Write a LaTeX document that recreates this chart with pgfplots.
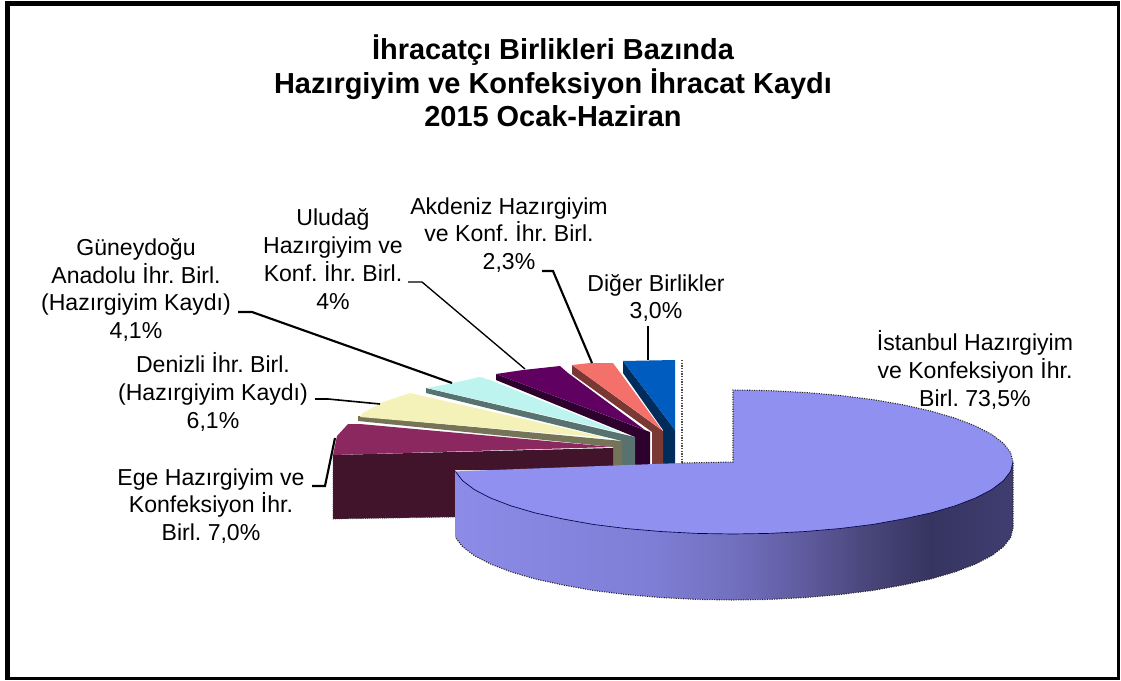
\documentclass[border=0pt]{standalone}
\usepackage{fontspec}
\setmainfont{Liberation Sans}
\usepackage{pgfplots}
\pgfplotsset{compat=1.18}
\definecolor{sA}{RGB}{140,140,232}
\definecolor{sB}{RGB}{126,126,214}
\definecolor{sC}{RGB}{112,110,188}
\definecolor{sD}{RGB}{96,92,160}
\definecolor{sE}{RGB}{76,72,126}
\definecolor{sF}{RGB}{54,52,96}
\definecolor{sG}{RGB}{64,62,112}
\pgfdeclarehorizontalshading{pieside}{100bp}{color(0bp)=(sA); color(25bp)=(sA); color(42.6bp)=(sB); color(50.6bp)=(sC); color(56bp)=(sD); color(61.3bp)=(sE); color(67.6bp)=(sF); color(75bp)=(sG); color(100bp)=(sG)}
\definecolor{ist}{RGB}{144,144,240}
\definecolor{egeT}{RGB}{140,40,96}
\definecolor{egeS}{RGB}{66,20,44}
\definecolor{denT}{RGB}{244,242,184}
\definecolor{denS}{RGB}{118,116,88}
\definecolor{gunT}{RGB}{190,244,240}
\definecolor{gunS}{RGB}{88,114,112}
\definecolor{uluT}{RGB}{96,0,96}
\definecolor{uluS}{RGB}{46,0,46}
\definecolor{akdT}{RGB}{244,112,106}
\definecolor{akdS}{RGB}{122,56,52}
\definecolor{digT}{RGB}{0,92,190}
\definecolor{digS}{RGB}{0,44,92}
\frenchspacing
\tikzset{lbl/.style={font=\fontsize{17.3}{20.8}\selectfont,align=center,text=black,inner sep=0pt}}
\begin{document}
\begin{tikzpicture}
\begin{axis}[
  scale only axis, width=840.75pt, height=510.75pt,
  xmin=0, xmax=1121, ymin=0, ymax=681, y dir=reverse,
  hide axis, clip=true]
% page and frame
\addplot[fill=white,draw=none] coordinates {(0,0)(1121,0)(1121,681)(0,681)} --cycle;
\addplot[fill=black,draw=none] coordinates {(5,1)(1120,1)(1120,6)(5,6)} --cycle;
\addplot[fill=black,draw=none] coordinates {(5,1)(10,1)(10,680)(5,680)} --cycle;
\addplot[fill=black,draw=none] coordinates {(1117,1)(1120,1)(1120,680)(1117,680)} --cycle;
\addplot[fill=black,draw=none] coordinates {(5,677)(1120,677)(1120,680)(5,680)} --cycle;
% dotted side marks
\addplot[black!70,line width=1pt,densely dotted] coordinates {(682,360)(682,463)};
% Diger
\addplot[fill=digS,draw=none] coordinates {(623,361)(623,373)(663,430)(663,465)(675,465)(675,430)} --cycle;
\addplot[fill=digT,draw=none] coordinates {(623,361)(675,360)(675,430)} --cycle;
% Akdeniz
\addplot[fill=akdS,draw=none] coordinates {(572,365)(572,374)(652,432)(652,465)(663,465)(663,431)} --cycle;
\addplot[fill=akdT,draw=none] coordinates {(572,365)(590,363)(613,363)(662,430)} --cycle;
% Uludag
\addplot[fill=uluS,draw=none] coordinates {(496,374)(496,380)(635,437)(635,465)(650,465)(650,432)} --cycle;
\addplot[fill=uluT,draw=none] coordinates {(496,374)(523,370)(560,366)(568,373)(645,430)} --cycle;
% Guneydogu
\addplot[fill=gunS,draw=none] coordinates {(426,388)(426,393)(622,441)(622,465)(635,465)(635,437)} --cycle;
\addplot[fill=gunT,draw=none] coordinates {(427,388)(453,383)(480,377)(490,380)(622,433)} --cycle;
% Denizli
\addplot[fill=denS,draw=none] coordinates {(358,416)(358,421)(613,447)(613,466)(622,466)(622,441)} --cycle;
\addplot[fill=denT,draw=none] coordinates {(360,417)(363,413)(383,402)(410,393)(423,396)(607,438)} --cycle;
% Ege
\addplot[fill=egeS,draw=none] coordinates {(333,455)(613,448)(613,470)(455,470)(455,517)(333,519)} --cycle;
\addplot[fill=egeT,draw=none] coordinates {(333,455)(337,436)(348,424)(360,424)(613,447)} --cycle;
\addplot[black!75,line width=0.6pt,densely dotted] coordinates {(333,455)(333,519)(455,517)};
% Istanbul side
\addplot[shading=pieside,shading angle=0,draw=none] coordinates {
 (1013,462)(1010.6,471.4)(1003.5,480.6)(991.7,489.6)(975.5,498)(955.2,505.8)(931,512.9)(903.5,518.9)(873,524.4)(840.2,528.5)(805.5,531.5)(769.5,533.4)(733,534)(696.5,533.4)(660.5,531.5)(625.8,528.5)(593,524.4)(562.5,518.9)(535,512.9)(510.8,505.8)(490.5,498)(474.3,489.6)(462.5,480.6)(455.4,471.4)
 (455.4,537.4)(462.5,546.6)(474.3,555.6)(490.5,564)(510.8,571.8)(535,578.9)(562.5,584.9)(593,590.4)(625.8,594.5)(660.5,597.5)(696.5,599.4)(733,600)(769.5,599.4)(805.5,597.5)(840.2,594.5)(873,590.4)(903.5,584.9)(931,578.9)(955.2,571.8)(975.5,564)(991.7,555.6)(1003.5,546.6)(1010.6,537.4)(1013,528)} --cycle;
% Istanbul top
\addplot[fill=ist,draw=none] coordinates {
 (733,462)(733,390)(769.5,390.6)(805.5,392.5)(840.2,395.5)(873,399.6)(903.5,404.9)(931,411.1)(955.2,418.2)(975.5,426)(991.7,434.4)(1003.5,443.4)(1010.6,452.6)(1013,462)(1010.6,471.4)(1003.5,480.6)(991.7,489.6)(975.5,498)(955.2,505.8)(931,512.9)(903.5,518.9)(873,524.4)(840.2,528.5)(805.5,531.5)(769.5,533.4)(733,534)(696.5,533.4)(660.5,531.5)(625.8,528.5)(593,524.4)(562.5,518.9)(535,512.9)(510.8,505.8)(490.5,498)(474.3,489.6)(462.5,480.6)(455.4,471.4)(682,463)} --cycle;
% Istanbul edges
\addplot[black!70!blue,line width=0.5pt] coordinates {(1013,462)(1010.6,471.4)(1003.5,480.6)(991.7,489.6)(975.5,498)(955.2,505.8)(931,512.9)(903.5,518.9)(873,524.4)(840.2,528.5)(805.5,531.5)(769.5,533.4)(733,534)(696.5,533.4)(660.5,531.5)(625.8,528.5)(593,524.4)(562.5,518.9)(535,512.9)(510.8,505.8)(490.5,498)(474.3,489.6)(462.5,480.6)(455.4,471.4)};
\addplot[black!85,line width=0.8pt,densely dotted] coordinates {(682,463)(733,462)(733,390)(769.5,390.6)(805.5,392.5)(840.2,395.5)(873,399.6)(903.5,404.9)(931,411.1)(955.2,418.2)(975.5,426)(991.7,434.4)(1003.5,443.4)(1010.6,452.6)(1013,462)(1013,528)(1010.6,537.4)(1003.5,546.6)(991.7,555.6)(975.5,564)(955.2,571.8)(931,578.9)(903.5,584.9)(873,590.4)(840.2,594.5)(805.5,597.5)(769.5,599.4)(733,600)(696.5,599.4)(660.5,597.5)(625.8,594.5)(593,590.4)(562.5,584.9)(535,578.9)(510.8,571.8)(490.5,564)(474.3,555.6)(462.5,546.6)(455.4,537.4)};
% leader lines
\addplot[black,line width=1.6pt] coordinates {(648,326)(648,360)};
\addplot[black,line width=1.6pt] coordinates {(542,271)(553,271)(592,363)};
\addplot[black,line width=1pt] coordinates {(408,282)(422,282)(525,369)};
\addplot[black,line width=1.6pt] coordinates {(238,312)(252,312)(452,383)};
\addplot[black,line width=1.2pt] coordinates {(315,399)(328,399)(380,404)};
\addplot[black,line width=1.6pt] coordinates {(312,486)(325,486)(335,438)};
% texts
\node[align=center,inner sep=0pt,font=\fontsize{21.7}{25}\selectfont\bfseries] at (axis cs:553,81) {İhracatçı Birlikleri Bazında\\Hazırgiyim ve Konfeksiyon İhracat Kaydı\\2015 Ocak-Haziran};
\node[lbl] at (axis cs:975,370) {İstanbul Hazırgiyim\\ve Konfeksiyon İhr.\\Birl. 73,5\%};
\node[lbl] at (axis cs:656,298) {Diğer Birlikler\\3,0\%};
\node[lbl] at (axis cs:509,235) {Akdeniz Hazırgiyim\\ve Konf. İhr. Birl.\\2,3\%};
\node[lbl] at (axis cs:333,259) {Uludağ\\Hazırgiyim ve\\Konf. İhr. Birl.\\4\%};
\node[lbl] at (axis cs:136,290) {Güneydoğu\\Anadolu İhr. Birl.\\(Hazırgiyim Kaydı)\\4,1\%};
\node[lbl] at (axis cs:213,392) {Denizli İhr. Birl.\\(Hazırgiyim Kaydı)\\6,1\%};
\node[lbl] at (axis cs:211,506) {Ege Hazırgiyim ve\\Konfeksiyon İhr.\\Birl. 7,0\%};
\end{axis}
\end{tikzpicture}
\end{document}
